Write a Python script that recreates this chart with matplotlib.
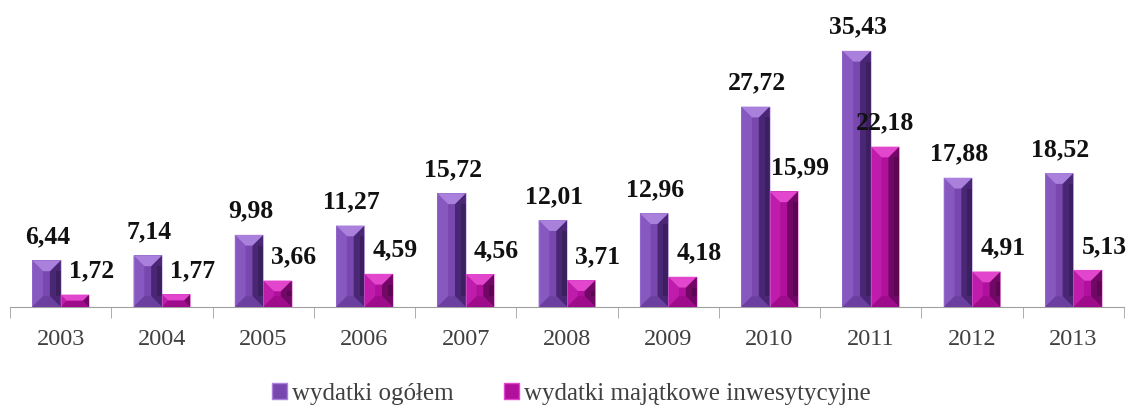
import matplotlib
matplotlib.use("Agg")
import matplotlib.pyplot as plt
from matplotlib.patches import Polygon
import matplotlib.patches as mpatches
import numpy as np

# dane
LATA = ["2003", "2004", "2005", "2006", "2007", "2008", "2009", "2010", "2011", "2012", "2013"]
OGOLEM = [6.44, 7.14, 9.98, 11.27, 15.72, 12.01, 12.96, 27.72, 35.43, 17.88, 18.52]
MAJATKOWE = [1.72, 1.77, 3.66, 4.59, 4.56, 3.71, 4.18, 15.99, 22.18, 4.91, 5.13]
NAZWY = ["wydatki ogółem", "wydatki majątkowe inwesytycyjne"]

# kolory ścianek: (środek, lewa, prawa, góra, dół)
FIOLET = ("#7848ae", "#8658c0", "#4a2775", "#a980dc", "#6a3f9f")
MAGENTA = ("#b0109c", "#bf1cab", "#720865", "#e246cc", "#9e0c8c")

SERIF = ["Liberation Serif", "DejaVu Serif"]
W = 0.28

fig = plt.figure(figsize=(11.31, 4.10), dpi=100)
ax = fig.add_axes([10 / 1131, 102 / 410, 1114 / 1131, 308 / 410])
ax.set_xlim(-0.5, len(LATA) - 0.5)
ax.set_ylim(0, 42.6)

x = np.arange(len(LATA))
bars1 = ax.bar(x - W / 2, OGOLEM, W, color=FIOLET[0], zorder=2)
bars2 = ax.bar(x + W / 2, MAJATKOWE, W, color=MAGENTA[0], zorder=2)

# piksele na jednostkę
bbox = ax.get_window_extent()
sx = bbox.width / (ax.get_xlim()[1] - ax.get_xlim()[0])
sy = bbox.height / (ax.get_ylim()[1] - ax.get_ylim()[0])


def bevel(bar, cols):
    x0 = bar.get_x()
    w = bar.get_width()
    h = bar.get_height()
    x1 = x0 + w
    d = min(w * sx * 0.38, h * sy / 2)
    dx, dy = d / sx, d / sy
    faces = [
        ([(x0, 0), (x0, h), (x0 + dx, h - dy), (x0 + dx, dy)], cols[1]),
        ([(x1, 0), (x1, h), (x1 - dx, h - dy), (x1 - dx, dy)], cols[2]),
        ([(x0, h), (x1, h), (x1 - dx, h - dy), (x0 + dx, h - dy)], cols[3]),
        ([(x0, 0), (x1, 0), (x1 - dx, dy), (x0 + dx, dy)], cols[4]),
    ]
    for pts, c in faces:
        ax.add_patch(Polygon(pts, closed=True, facecolor=c, edgecolor="none", zorder=3))
    # łagodne przejście na prawej ściance
    ax.add_patch(mpatches.Rectangle((x1 - dx * 0.45, dy), dx * 0.45, h - 2 * dy,
                                    facecolor="#000000", alpha=0.18, edgecolor="none", zorder=3))
    ax.add_patch(mpatches.Rectangle((x0, 0), w, h, facecolor="none",
                                    edgecolor=cols[3], linewidth=0.6, alpha=0.5, zorder=4))


for b in bars1:
    bevel(b, FIOLET)
for b in bars2:
    bevel(b, MAGENTA)

fmt = lambda v: f"{v:.2f}".replace(".", ",")
for i, v in enumerate(OGOLEM):
    ax.annotate(fmt(v), (x[i] - W / 2, v), xytext=(1, 13), textcoords="offset points",
                ha="center", va="baseline", fontsize=18.5, fontweight="bold",
                family=SERIF, color="#111111", zorder=5)
for i, v in enumerate(MAJATKOWE):
    dxp = 0 if LATA[i] == "2011" else 12
    ax.annotate(fmt(v), (x[i] + W / 2, v), xytext=(dxp, 13), textcoords="offset points",
                ha="center", va="baseline", fontsize=18.5, fontweight="bold",
                family=SERIF, color="#111111", zorder=5)

for s in ["top", "right", "left"]:
    ax.spines[s].set_visible(False)
ax.spines["bottom"].set_color("#a0a0a0")
ax.set_yticks([])
ax.set_xticks(x)
ax.set_xticklabels(LATA, family=SERIF, fontsize=17.5, color="#404040")
ax.set_xticks(np.arange(-0.5, len(LATA)), minor=True)
ax.tick_params(axis="x", which="major", length=0, pad=15)
ax.tick_params(axis="x", which="minor", length=8, color="#a0a0a0", direction="out")

handles = [mpatches.Patch(facecolor=FIOLET[0], edgecolor=FIOLET[3], label=NAZWY[0]),
           mpatches.Patch(facecolor=MAGENTA[0], edgecolor=MAGENTA[3], label=NAZWY[1])]
leg = fig.legend(handles=handles, loc="center", bbox_to_anchor=(0.505, 0.038), ncol=2,
                 frameon=False, prop={"family": SERIF, "size": 18},
                 handlelength=0.6, handleheight=0.6, handletextpad=0.2, columnspacing=2.0)
for t in leg.get_texts():
    t.set_color("#404040")

fig.savefig("out.png", dpi=100)
